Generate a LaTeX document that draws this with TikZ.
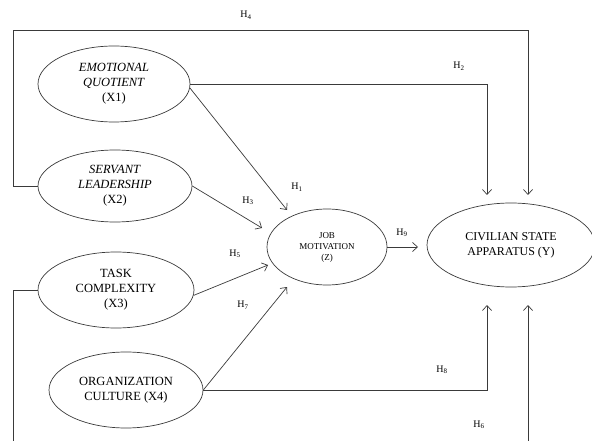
\documentclass[tikz,border=0pt]{standalone}
\usepackage{fontspec}
\setmainfont{Liberation Serif}
\usetikzlibrary{shapes.geometric,arrows.meta}
\tikzset{
  var/.style={ellipse,draw=linec,line width=0.7pt,inner sep=0pt,align=center,
    font=\fontsize{12.5}{15}\selectfont},
  arr/.style={draw=linec,line width=0.7pt,-{Straight Barb[length=5pt,width=9pt,line width=0.7pt]}},
  ln/.style={draw=linec,line width=0.7pt},
  hl/.style={font=\fontsize{10}{12}\selectfont,inner sep=0pt}
}
\definecolor{linec}{HTML}{3A3A3A}
\begin{document}
\begin{tikzpicture}[x=1pt,y=-1pt]
\clip (0,0) rectangle (592,441);
\node[var,minimum width=152pt,minimum height=76pt] (eq) at (114,84) {\textit{EMOTIONAL}\\\textit{QUOTIENT}\\(X1)};
\node[var,minimum width=154pt,minimum height=72pt] (sl) at (115,186) {\textit{SERVANT}\\\textit{LEADERSHIP}\\(X2)};
\node[var,minimum width=156pt,minimum height=76pt] (tc) at (116,290) {TASK\\COMPLEXITY\\(X3)};
\node[var,minimum width=154pt,minimum height=76pt] (oc) at (126,390) {ORGANIZATION\\CULTURE (X4)};
\node[var,minimum width=120pt,minimum height=76pt,font=\fontsize{9}{11}\selectfont] (jm) at (327,247) {JOB\\MOTIVATION\\(Z)};
\node[var,minimum width=168pt,minimum height=84pt,font=\fontsize{12}{15}\selectfont] (csa) at (511,245) {CIVILIAN STATE\\APPARATUS (Y)};

\coordinate (h1tip) at (287,210);
\coordinate (h3tip) at (262,228);
\coordinate (h5tip) at (268,265);
\coordinate (h7tip) at (287,287);
\coordinate (h9tip) at (418,247);
\coordinate (h2tip) at (487,195);
\coordinate (h4tip) at (528,195);
\coordinate (h8tip) at (487,305);
\coordinate (h6tip) at (528,305);
\coordinate (h4corner) at (13,30);
\coordinate (h6corner) at (13,460);

\draw[arr] (eq.-3) -- (h1tip);
\draw[arr] (sl.east) -- (h3tip);
\draw[arr] (tc.-4) -- (h5tip);
\draw[arr] (oc.east) -- (h7tip);
\draw[arr] (jm.east) -- (h9tip);
\draw[arr] (eq.east) -| (h2tip);
\draw[arr] (sl.west) -| (h4corner) -| (h4tip);
\draw[arr] (oc.east) -| (h8tip);
\draw[arr] (tc.west) -| (h6corner) -| (h6tip);

\node[hl] (l4) at (246,15) {H\textsubscript{4}};
\node[hl] (l2) at (459,66) {H\textsubscript{2}};
\node[hl] (l1) at (297,187) {H\textsubscript{1}};
\node[hl] (l3) at (248,201) {H\textsubscript{3}};
\node[hl] (l5) at (235,254) {H\textsubscript{5}};
\node[hl] (l7) at (243,305) {H\textsubscript{7}};
\node[hl] (l8) at (442,370) {H\textsubscript{8}};
\node[hl] (l6) at (479,425) {H\textsubscript{6}};
\node[hl] (l9) at (402,233) {H\textsubscript{9}};
\end{tikzpicture}
\end{document}
